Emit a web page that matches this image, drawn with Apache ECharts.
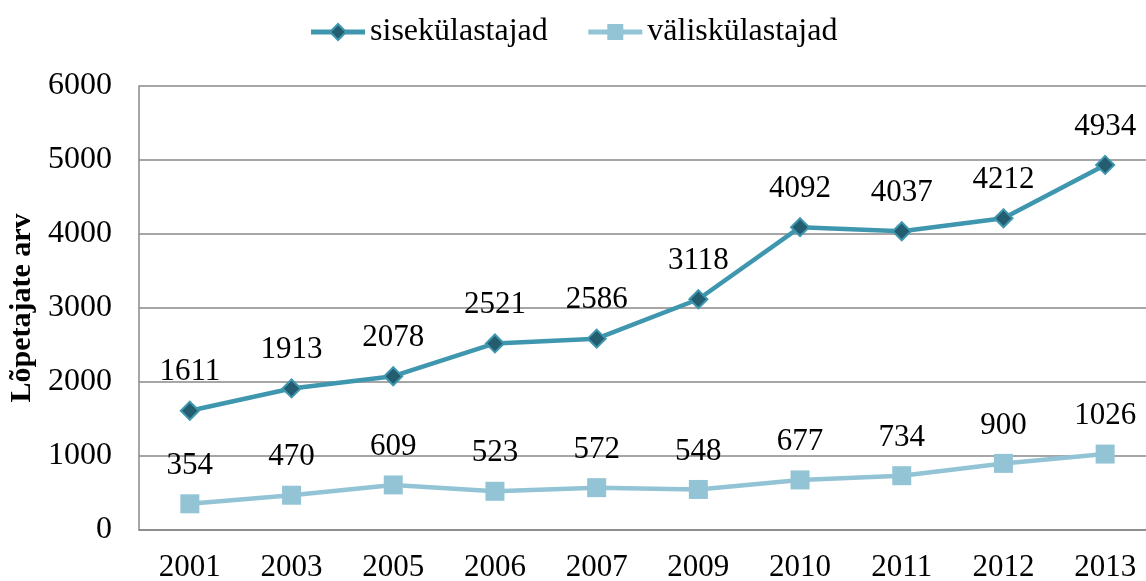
<!DOCTYPE html>
<html>
<head>
<meta charset="utf-8">
<script src="https://cdn.jsdelivr.net/npm/echarts@6/dist/echarts.min.js"></script>
<style>
  html, body { margin: 0; padding: 0; background: #fff; }
  #chart { width: 1146px; height: 581px; }
</style>
</head>
<body>
<div id="chart"></div>
<script>
const years = ['2001', '2003', '2005', '2006', '2007', '2009', '2010', '2011', '2012', '2013']
const sise = [1611, 1913, 2078, 2521, 2586, 3118, 4092, 4037, 4212, 4934]
const valis = [354, 470, 609, 523, 572, 548, 677, 734, 900, 1026]

const font = 'Liberation Serif'

const chart = echarts.init(document.getElementById('chart'))
chart.setOption({
  animation: false,
  textStyle: { fontFamily: font },
  legend: {
    top: 11,
    left: 'center',
    itemWidth: 54,
    itemHeight: 20,
    itemGap: 38,
    lineStyle: { width: 5 },
    textStyle: { fontFamily: font, fontSize: 32, color: '#000' },
    data: ['sisekülastajad', 'väliskülastajad']
  },
  grid: {
    top: 86,
    bottom: 51,
    left: 139,
    right: -10,
    outerBoundsMode: 'none'
  },
  xAxis: {
    type: 'category',
    boundaryGap: true,
    data: years,
    axisLine: { lineStyle: { color: '#888', width: 1.5 } },
    axisTick: { show: false },
    axisLabel: { color: '#000', fontSize: 31, fontFamily: font, margin: 22 }
  },
  yAxis: {
    type: 'value',
    min: 0,
    max: 6000,
    interval: 1000,
    name: 'Lõpetajate arv',
    nameLocation: 'middle',
    nameGap: 100,
    nameTextStyle: { color: '#000', fontSize: 30, fontWeight: 'bold', fontFamily: font },
    axisLine: { show: true, lineStyle: { color: '#888', width: 1.5 } },
    axisTick: { show: false },
    splitLine: { lineStyle: { color: '#888', width: 1.5 } },
    axisLabel: { color: '#000', fontSize: 32, fontFamily: font, margin: 27, formatter: v => String(v) }
  },
  series: [
    {
      name: 'sisekülastajad',
      type: 'line',
      data: sise,
      symbol: 'diamond',
      symbolSize: 18,
      lineStyle: { color: '#3E97AE', width: 4.5 },
      itemStyle: { color: '#245D6F', borderColor: '#3E97AE', borderWidth: 2 },
      label: {
        show: true,
        position: 'top',
        distance: 13,
        color: '#000',
        fontSize: 31,
        fontFamily: font
      }
    },
    {
      name: 'väliskülastajad',
      type: 'line',
      data: valis,
      symbol: 'rect',
      symbolSize: 19,
      lineStyle: { color: '#93C4D5', width: 4.5 },
      itemStyle: { color: '#93C4D5' },
      label: {
        show: true,
        position: 'top',
        distance: 13,
        color: '#000',
        fontSize: 31,
        fontFamily: font
      }
    }
  ]
})
</script>
</body>
</html>
